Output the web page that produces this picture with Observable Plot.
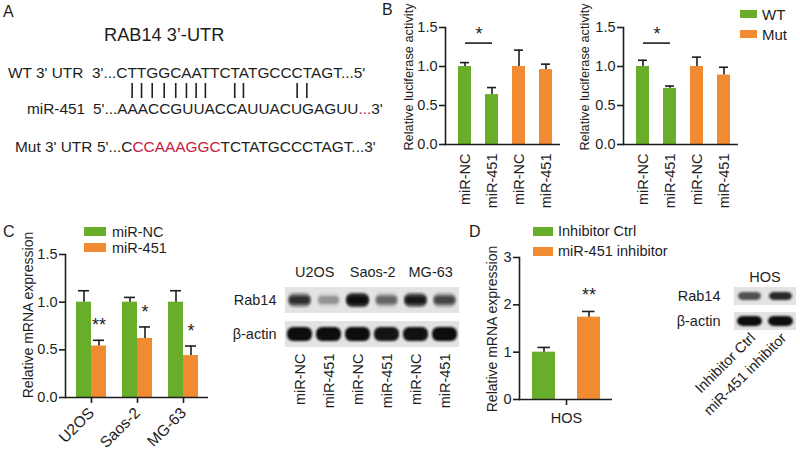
<!DOCTYPE html>
<html><head><meta charset="utf-8">
<script src="https://cdn.jsdelivr.net/npm/d3@7"></script>
<script src="https://cdn.jsdelivr.net/npm/@observablehq/plot@0.6"></script>
<style>
body{margin:0;background:#fff;}
#fig{position:relative;width:800px;height:457px;overflow:hidden;font-family:"Liberation Sans",Arial,sans-serif;color:#1e1e1e;background:#fff;}
.abs{position:absolute;white-space:nowrap;line-height:1;}
.pl{position:absolute;}
.pl svg{overflow:visible;}
</style></head><body><div id="fig"></div>
<script>
// ---------- data ----------
const GREEN = "#69ae2a", ORANGE = "#f08b31", RED = "#c8203f";
// Panel A
const wtSeq = "CTTGGCAATTCTATGCCCTAGT";
const mirSeq = "AAACCGUUACCAUUACUGAGUU";
const mutMutated = "CCAAAGGC";
const mutRest = "TCTATGCCCTAGT";
// Panel B
const bCategories = ["miR-NC", "miR-451", "miR-NC", "miR-451"];
const bGroups = ["WT", "WT", "Mut", "Mut"];
const b1Values = [1.00, 0.64, 1.00, 0.96];
const b1Errors = [0.05, 0.09, 0.21, 0.07];
const b2Values = [1.00, 0.72, 1.00, 0.89];
const b2Errors = [0.08, 0.03, 0.12, 0.10];
// Panel C
const cCells = ["U2OS", "Saos-2", "MG-63"];
const cNC = [1.00, 1.00, 1.00];
const cNCErr = [0.12, 0.05, 0.12];
const c451 = [0.54, 0.62, 0.44];
const c451Err = [0.06, 0.12, 0.10];
const cStars = ["**", "*", "*"];
const blotLanesC = ["miR-NC", "miR-451", "miR-NC", "miR-451", "miR-NC", "miR-451"];
const blotCellsC = ["U2OS", "U2OS", "Saos-2", "Saos-2", "MG-63", "MG-63"];
const rab14C = [0.75, 0.3, 1.0, 0.5, 0.88, 0.65];
const actinC = [1.0, 1.0, 1.0, 0.97, 0.98, 1.0];
// Panel D
const dGroups = ["Inhibitor Ctrl", "miR-451 inhibitor"];
const dCell = "HOS";
const dValues = [1.00, 1.74];
const dErrors = [0.10, 0.12];
const dStar = "**";
const rab14D = [0.7, 0.88];
const actinD = [1.0, 1.0];
const blotRows = ["Rab14", "β-actin"];

// ---------- helpers ----------
const fig = document.getElementById("fig");
const FONT = "Liberation Sans, Arial, sans-serif";
const baseStyle = {fontFamily: FONT, fontSize: "14px", color: "#1e1e1e", background: "transparent", overflow: "visible"};
function place(node, left, top) {
  const d = document.createElement("div");
  d.className = "pl"; d.style.left = left + "px"; d.style.top = top + "px";
  d.appendChild(node); fig.appendChild(d); return node;
}
function label(html, x, cy, size, extra) {
  const d = document.createElement("div");
  d.className = "abs"; d.innerHTML = html;
  d.style.left = x + "px"; d.style.top = cy + "px"; d.style.fontSize = size + "px";
  d.style.transform = "translateY(-50%)";
  if (extra) Object.assign(d.style, extra);
  fig.appendChild(d); return d;
}
function vlabel(text, cx, cy, size) {
  const d = document.createElement("div");
  d.className = "abs"; d.textContent = text;
  d.style.left = cx + "px"; d.style.top = cy + "px"; d.style.fontSize = size + "px";
  d.style.transform = "translate(-50%,-50%) rotate(-90deg)";
  fig.appendChild(d);
}
function swatch(x, y, w, h, color) {
  const d = document.createElement("div");
  d.className = "abs";
  Object.assign(d.style, {left: x + "px", top: y + "px", width: w + "px", height: h + "px", background: color});
  fig.appendChild(d);
}

// ---------- Panel letters ----------
label("A", 3, 12, 16); label("B", 382, 10, 16); label("C", 3, 232, 16); label("D", 469, 232, 16);

// ---------- Panel A (sequence alignment) ----------
(function () {
  const svg = d3.create("svg").attr("width", 380).attr("height", 180)
    .style("font-family", FONT).style("fill", "#1e1e1e");
  svg.append("text").attr("x", 104).attr("y", 41).attr("font-size", 18.2).text("RAB14 3’-UTR");
  const fs = 15.4;
  svg.append("text").attr("x", 8).attr("y", 78).attr("font-size", fs).text("WT 3' UTR");
  const wt = svg.append("text").attr("x", 92).attr("y", 78).attr("font-size", fs).text("3'..." + wtSeq + "...5'");
  svg.append("text").attr("x", 27).attr("y", 114).attr("font-size", fs).text("miR-451");
  const mir = svg.append("text").attr("x", 93).attr("y", 114).attr("font-size", fs);
  mir.append("tspan").text("5'..." + mirSeq);
  mir.append("tspan").attr("fill", RED).text("...");
  mir.append("tspan").text("3'");
  svg.append("text").attr("x", 15).attr("y", 152).attr("font-size", fs).text("Mut 3' UTR");
  const mut = svg.append("text").attr("x", 97).attr("y", 152).attr("font-size", fs);
  mut.append("tspan").text("5'...C");
  mut.append("tspan").attr("fill", RED).text(mutMutated);
  mut.append("tspan").text(mutRest + "...3'");
  place(svg.node(), 0, 0);
  const pairs = {T: "A", A: "U", G: "C", C: "G"};
  const off = 5; // "3'..." prefix length
  const el = wt.node();
  for (let i = 0; i < wtSeq.length; i++) {
    if (pairs[wtSeq[i]] === mirSeq[i]) {
      const p = el.getStartPositionOfChar(off + i).x;
      const w = el.getSubStringLength(off + i, 1);
      const cx = p + w / 2;
      svg.append("line").attr("x1", cx).attr("x2", cx).attr("y1", 83).attr("y2", 98)
        .attr("stroke", "#1e1e1e").attr("stroke-width", 1.6);
    }
  }
})();

// ---------- Panel B ----------
function bChart(values, errors) {
  const data = bCategories.map((c, i) => ({key: String(i), cat: c, grp: bGroups[i], v: values[i], e: errors[i]}));
  const sig = [{a: "0", b: "1"}];
  return Plot.plot({
    width: 190, height: 215, marginLeft: 65, marginRight: 10, marginTop: 27, marginBottom: 71,
    style: baseStyle,
    x: {domain: data.map(d => d.key), paddingInner: 0.53, paddingOuter: 0.34, align: 0.6},
    y: {domain: [0, 1.5]},
    marks: [
      Plot.barY(data, {x: "key", y: "v", fill: d => d.grp === "WT" ? GREEN : ORANGE}),
      Plot.ruleX(data, {x: "key", y1: "v", y2: d => d.v + d.e, strokeWidth: 1.6, stroke: "#1e1e1e"}),
      Plot.tickY(data, {x: "key", y: d => d.v + d.e, strokeWidth: 1.6, stroke: "#1e1e1e", insetLeft: 2, insetRight: 2}),
      Plot.link(sig, {x1: "a", x2: "b", y1: () => 1.3, y2: () => 1.3, strokeWidth: 1.6, stroke: "#1e1e1e"}),
      Plot.text(sig, {x: "a", y: () => 1.42, text: () => "*", dx: 14, fontSize: 18}),
      Plot.axisY({ticks: [0, 0.5, 1, 1.5], tickFormat: d3.format(".1f"), tickSize: 6, tickPadding: 2, strokeWidth: 1.6, fontSize: 14.5, label: null}),
      Plot.axisX({tickSize: 0, tickPadding: 9, tickRotate: -90, tickFormat: k => bCategories[+k], fontSize: 14.5, label: null}),
      Plot.frame({anchor: "left", strokeWidth: 1.6}),
      Plot.ruleY([0], {strokeWidth: 1.6})
    ]
  });
}
place(bChart(b1Values, b1Errors), 380, 0);
place(bChart(b2Values, b2Errors), 558, 0);
vlabel("Relative luciferase activity", 409, 77, 12.8);
vlabel("Relative luciferase activity", 585, 77, 12.8);
swatch(740, 10, 17, 8, GREEN); label("WT", 762, 14, 15);
swatch(740, 30, 17, 8, ORANGE); label("Mut", 762, 34, 15);

// ---------- Panel C bar chart ----------
(function () {
  const data = cCells.map((c, i) => ({cell: c, nc: cNC[i], ncE: cNCErr[i], m: c451[i], mE: c451Err[i], star: cStars[i]}));
  const chart = Plot.plot({
    width: 215, height: 227, marginLeft: 65, marginRight: 7, marginTop: 24, marginBottom: 60,
    style: baseStyle,
    x: {domain: cCells, paddingInner: 0.348, paddingOuter: 0.228},
    y: {domain: [0, 1.5]},
    marks: [
      Plot.barY(data, {x: "cell", y: "nc", fill: GREEN, insetRight: 15}),
      Plot.barY(data, {x: "cell", y: "m", fill: ORANGE, insetLeft: 15}),
      Plot.ruleX(data, {x: "cell", y1: "nc", y2: d => d.nc + d.ncE, dx: -7.5, strokeWidth: 1.6, stroke: "#1e1e1e"}),
      Plot.tickY(data, {x: "cell", y: d => d.nc + d.ncE, insetLeft: 2, insetRight: 17, strokeWidth: 1.6, stroke: "#1e1e1e"}),
      Plot.ruleX(data, {x: "cell", y1: "m", y2: d => d.m + d.mE, dx: 7.5, strokeWidth: 1.6, stroke: "#1e1e1e"}),
      Plot.tickY(data, {x: "cell", y: d => d.m + d.mE, insetLeft: 17, insetRight: 2, strokeWidth: 1.6, stroke: "#1e1e1e"}),
      Plot.text(data, {x: "cell", y: d => d.m + d.mE, text: "star", dx: 7.5, dy: -15, fontSize: 18}),
      Plot.axisY({ticks: [0, 0.5, 1, 1.5], tickFormat: d3.format(".1f"), tickSize: 6, tickPadding: 2, strokeWidth: 1.6, fontSize: 14.5, label: null}),
      Plot.axisX({tickSize: 6, tickPadding: 7, tickRotate: -45, strokeWidth: 1.6, fontSize: 15.5, label: null}),
      Plot.frame({anchor: "left", strokeWidth: 1.6}),
      Plot.ruleY([0], {strokeWidth: 1.6})
    ]
  });
  place(chart, 0, 230);
})();
vlabel("Relative mRNA expression", 28, 315, 14);
swatch(84, 227, 22, 9, GREEN); label("miR-NC", 112, 232, 14.5);
swatch(84, 243, 22, 9, ORANGE); label("miR-451", 112, 248, 14.5);

// ---------- Western blot helper ----------
let blurId = 0;
function addBlur(svgNode, cellIndex, sd) {
  const id = "blur" + (blurId++);
  const svg = d3.select(svgNode);
  const defs = svg.insert("defs", ":first-child");
  defs.append("filter").attr("id", id).attr("x", "-40%").attr("y", "-80%").attr("width", "180%").attr("height", "260%")
    .append("feGaussianBlur").attr("stdDeviation", sd);
  svg.selectAll('g[aria-label="cell"]').filter((d, i) => i >= cellIndex).attr("filter", `url(#${id})`);
}

// ---------- Panel C blot ----------
(function () {
  const lanes = blotLanesC.map((d, i) => String(i));
  const bg = blotRows.flatMap(r => lanes.map(l => ({lane: l, row: r})));
  const bands = lanes.flatMap((l, i) => [{lane: l, row: "Rab14", v: rab14C[i]}, {lane: l, row: "β-actin", v: actinC[i]}]);
  const rab = bands.filter(d => d.row === "Rab14"), act = bands.filter(d => d.row === "β-actin");
  const heads = lanes.filter((l, i) => i % 2 === 0).map(l => ({lane: l, text: blotCellsC[+l]}));
  const chart = Plot.plot({
    width: 235, height: 160, marginLeft: 53, marginRight: 5, marginTop: 32, marginBottom: 67,
    style: baseStyle,
    x: {domain: lanes, padding: 0},
    y: {domain: blotRows, paddingInner: 0.23, paddingOuter: 0},
    opacity: {domain: [0, 1], range: [0, 1]},
    marks: [
      Plot.cell(bg, {x: "lane", y: "row", fill: "#e3e3e3"}),
      Plot.text(heads, {x: "lane", y: () => "Rab14", text: "text", dx: 14.7, dy: -28, fontSize: 14.5}),
      Plot.axisY({tickSize: 0, tickPadding: 7, fontSize: 14.5, label: null}),
      Plot.axisX({tickSize: 0, tickPadding: 5, tickRotate: -90, tickFormat: k => blotLanesC[+k], fontSize: 14.5, label: null}),
      Plot.cell(rab, {x: "lane", y: "row", fill: "#111", fillOpacity: d => d.v * d.v * 0.8, insetLeft: 3, insetRight: 3, insetTop: 6, insetBottom: 6, rx: 6}),
      Plot.cell(rab, {x: "lane", y: "row", fill: "#111", fillOpacity: "v", insetLeft: 4, insetRight: 4, insetTop: 9, insetBottom: 9, rx: 4}),
      Plot.cell(act, {x: "lane", y: "row", fill: "#0d0d0d", fillOpacity: "v", insetLeft: 2, insetRight: 2, insetTop: 6, insetBottom: 6, rx: 6})
    ]
  });
  addBlur(chart, 1, 1.3);
  place(chart, 230, 255);
})();

// ---------- Panel D bar chart ----------
(function () {
  const data = [{cell: dCell, g: dValues[0], gE: dErrors[0], o: dValues[1], oE: dErrors[1], star: dStar}];
  const chart = Plot.plot({
    width: 180, height: 227, marginLeft: 79, marginRight: 8, marginTop: 27, marginBottom: 58,
    style: baseStyle,
    x: {domain: [dCell], paddingInner: 0, paddingOuter: 0.18},
    y: {domain: [0, 3]},
    marks: [
      Plot.barY(data, {x: "cell", y: "g", fill: GREEN, insetRight: 45}),
      Plot.barY(data, {x: "cell", y: "o", fill: ORANGE, insetLeft: 45}),
      Plot.ruleX(data, {x: "cell", y1: "g", y2: d => d.g + d.gE, dx: -22.5, strokeWidth: 1.6, stroke: "#1e1e1e"}),
      Plot.tickY(data, {x: "cell", y: d => d.g + d.gE, insetLeft: 5.5, insetRight: 50, strokeWidth: 1.6, stroke: "#1e1e1e"}),
      Plot.ruleX(data, {x: "cell", y1: "o", y2: d => d.o + d.oE, dx: 22.5, strokeWidth: 1.6, stroke: "#1e1e1e"}),
      Plot.tickY(data, {x: "cell", y: d => d.o + d.oE, insetLeft: 50, insetRight: 5.5, strokeWidth: 1.6, stroke: "#1e1e1e"}),
      Plot.text(data, {x: "cell", y: d => d.o + d.oE, text: "star", dx: 22.5, dy: -16, fontSize: 18}),
      Plot.axisY({ticks: [0, 1, 2, 3], tickFormat: d3.format("d"), tickSize: 6, tickPadding: 2, strokeWidth: 1.6, fontSize: 14.5, label: null}),
      Plot.axisX({tickSize: 6, tickPadding: 7, strokeWidth: 1.6, fontSize: 14.5, label: null}),
      Plot.frame({anchor: "left", strokeWidth: 1.6}),
      Plot.ruleY([0], {strokeWidth: 1.6})
    ]
  });
  place(chart, 440, 230);
})();
vlabel("Relative mRNA expression", 492, 329, 14);
swatch(533, 227, 20, 9, GREEN); label(dGroups[0], 558, 231, 14.5);
swatch(533, 247, 20, 9, ORANGE); label(dGroups[1], 558, 251, 14.5);

// ---------- Panel D blot ----------
(function () {
  const lanes = dGroups.map((d, i) => String(i));
  const bg = blotRows.flatMap(r => lanes.map(l => ({lane: l, row: r})));
  const rab = lanes.map((l, i) => ({lane: l, row: "Rab14", v: rab14D[i]}));
  const act = lanes.map((l, i) => ({lane: l, row: "β-actin", v: actinD[i]}));
  const chart = Plot.plot({
    width: 130, height: 202, marginLeft: 64, marginRight: 4, marginTop: 31, marginBottom: 127,
    style: baseStyle,
    x: {domain: lanes, padding: 0},
    y: {domain: blotRows, paddingInner: 0.3, paddingOuter: 0},
    opacity: {domain: [0, 1], range: [0, 1]},
    marks: [
      Plot.cell(bg, {x: "lane", y: "row", fill: "#e3e3e3"}),
      Plot.text([dCell], {x: () => "0", y: () => "Rab14", text: d => d, dx: 15, dy: -19, fontSize: 14.5}),
      Plot.axisY({tickSize: 0, tickPadding: 14, fontSize: 14.5, label: null}),
      Plot.axisX({tickSize: 0, tickPadding: 5, tickRotate: -45, tickFormat: k => dGroups[+k], fontSize: 14.5, label: null, dx: 3}),
      Plot.cell(rab, {x: "lane", y: "row", fill: "#111", fillOpacity: "v", insetLeft: 4, insetRight: 4, insetTop: 5, insetBottom: 5, rx: 5}),
      Plot.cell(act, {x: "lane", y: "row", fill: "#0d0d0d", fillOpacity: "v", insetLeft: 3, insetRight: 3, insetTop: 4, insetBottom: 4, rx: 6})
    ]
  });
  addBlur(chart, 1, 1.2);
  place(chart, 670, 255);
})();
</script></body></html>
